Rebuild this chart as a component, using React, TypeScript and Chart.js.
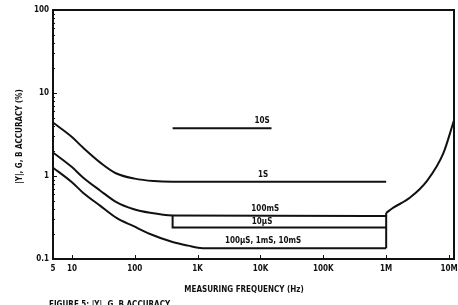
import React, { useEffect, useRef } from "react";
import { Chart, registerables } from "chart.js";

Chart.register(...registerables);

// ---- axis ticks ----
const xTickValues = [5, 10, 100, 1e3, 1e4, 1e5, 1e6, 1e7];
const xTickLabels = ["5", "10", "100", "1K", "10K", "100K", "1M", "10M"];
const yTickValues = [0.1, 1, 10, 100];
const yTickLabels = ["0.1", "1", "10", "100"];

// ---- curves (frequency Hz, accuracy %) ----
// 1S range curve
const freq1S = [5, 10, 15, 30, 50, 100, 200, 400, 1e6];
const acc1S = [4.4, 2.95, 2.2, 1.4, 1.08, 0.93, 0.87, 0.855, 0.855];
// 100mS range curve
const freq100mS = [5, 10, 15, 28, 52, 94, 175, 400, 1e6];
const acc100mS = [1.92, 1.28, 0.96, 0.67, 0.48, 0.4, 0.36, 0.335, 0.33];
// 10uS range (step at ~400 Hz)
const freq10uS = [400, 400, 1e6];
const acc10uS = [0.335, 0.24, 0.24];
// 100uS, 1mS, 10mS range curve
const freqLow = [5, 10, 15, 28, 52, 94, 175, 400, 700, 1200, 1e6];
const accLow = [1.26, 0.84, 0.63, 0.44, 0.31, 0.25, 0.2, 0.16, 0.145, 0.135, 0.135];
// vertical edge at 1 MHz
const freqEdge = [1e6, 1e6];
const accEdge = [0.135, 0.36];
// high-frequency rise
const freqHigh = [1e6, 1.3e6, 2.4e6, 4.5e6, 8.1e6, 1.2e7];
const accHigh = [0.36, 0.415, 0.55, 0.88, 1.87, 4.7];
// 10S range
const freq10S = [400, 15000];
const acc10S = [3.75, 3.75];

// ---- series labels ----
const seriesLabelTexts = ["10S", "1S", "100mS", "10\u00b5S", "100\u00b5S, 1mS, 10mS"];
const seriesLabelFreqs = [10600, 11000, 11900, 10600, 11000];
const seriesLabelAccs = [4.55, 1.04, 0.4, 0.28, 0.166];

const yTitle = "|Y|, G, B ACCURACY (%)";
const xTitle = "MEASURING FREQUENCY (Hz)";
const caption = "FIGURE 5: |Y|, G, B ACCURACY";

const FONT_FAMILY = '"DejaVu Sans Condensed", "Liberation Sans Narrow", sans-serif';
const INK = "#111";

const toPts = (xs: number[], ys: number[]) => xs.map((x, i) => ({ x, y: ys[i] }));

const decorPlugin = {
  id: "decor",
  afterDraw(chart: any) {
    const { ctx, chartArea: a, scales } = chart;
    const xs = scales.x;
    const ys = scales.y;
    ctx.save();
    // frame
    ctx.strokeStyle = INK;
    ctx.lineWidth = 2;
    ctx.strokeRect(a.left, a.top, a.right - a.left, a.bottom - a.top);
    // inward x ticks
    ctx.lineWidth = 1;
    ctx.beginPath();
    for (const v of xTickValues) {
      if (v === xTickValues[0]) continue;
      const px = Math.round(xs.getPixelForValue(v)) + 0.5;
      ctx.moveTo(px, a.bottom);
      ctx.lineTo(px, a.bottom - 4);
    }
    // inward y ticks (major + minor)
    for (let d = 0; d < yTickValues.length - 1; d++) {
      for (let m = 1; m < 10; m++) {
        const v = yTickValues[d] * m;
        const py = Math.round(ys.getPixelForValue(v)) + 0.5;
        ctx.moveTo(a.left, py);
        ctx.lineTo(a.left + (m === 1 ? 4 : 2), py);
      }
    }
    ctx.stroke();

    // series labels
    ctx.fillStyle = INK;
    ctx.font = `bold 8px ${FONT_FAMILY}`;
    ctx.textAlign = "center";
    ctx.textBaseline = "middle";
    seriesLabelTexts.forEach((t, i) => {
      ctx.fillText(t, xs.getPixelForValue(seriesLabelFreqs[i]), ys.getPixelForValue(seriesLabelAccs[i]));
    });

    // axis titles
    ctx.save();
    ctx.translate(20, (a.top + a.bottom) / 2 + 2);
    ctx.rotate(-Math.PI / 2);
    ctx.fillText(yTitle, 0, 0);
    ctx.restore();
    ctx.fillText(xTitle, 244, 290);

    // caption
    ctx.textAlign = "left";
    ctx.textBaseline = "top";
    ctx.fillText(caption, 49, 301);
    ctx.restore();
  },
};

export default function App() {
  const canvasRef = useRef<HTMLCanvasElement | null>(null);

  useEffect(() => {
    const canvas = canvasRef.current;
    if (!canvas) return;
    const curve = (data: any[]) => ({
      data,
      borderColor: INK,
      borderWidth: 2,
      pointRadius: 0,
      showLine: true,
      fill: false,
      cubicInterpolationMode: "monotone" as const,
    });
    const straight = (data: any[]) => ({
      data,
      borderColor: INK,
      borderWidth: 2,
      pointRadius: 0,
      showLine: true,
      fill: false,
      tension: 0,
    });
    const chart = new Chart(canvas, {
      type: "scatter",
      data: {
        datasets: [
          curve(toPts(freq1S, acc1S)),
          curve(toPts(freq100mS, acc100mS)),
          straight(toPts(freq10uS, acc10uS)),
          curve(toPts(freqLow, accLow)),
          straight(toPts(freqEdge, accEdge)),
          curve(toPts(freqHigh, accHigh)),
          straight(toPts(freq10S, acc10S)),
        ],
      },
      options: {
        animation: false,
        responsive: true,
        maintainAspectRatio: false,
        layout: { padding: { top: 10, right: 4, left: 0, bottom: 0 } },
        plugins: { legend: { display: false }, tooltip: { enabled: false } },
        scales: {
          x: {
            type: "logarithmic",
            min: 5,
            max: 1.2e7,
            afterBuildTicks: (scale: any) => {
              scale.ticks = xTickValues.map((v) => ({ value: v }));
            },
            afterFit: (scale: any) => {
              scale.height = 46;
              scale.paddingLeft = 0;
              scale.paddingRight = 0;
            },
            ticks: {
              autoSkip: false,
              maxRotation: 0,
              padding: 5,
              color: INK,
              font: { family: FONT_FAMILY, size: 8, weight: "bold" },
              callback: (_v: any, i: number) => xTickLabels[i],
            },
            grid: { display: false, drawTicks: false },
            border: { display: false },
          },
          y: {
            type: "logarithmic",
            min: 0.1,
            max: 100,
            afterBuildTicks: (scale: any) => {
              scale.ticks = yTickValues.map((v) => ({ value: v }));
            },
            afterFit: (scale: any) => {
              scale.width = 53;
              scale.paddingTop = 0;
              scale.paddingBottom = 0;
            },
            ticks: {
              autoSkip: false,
              padding: 4,
              color: INK,
              font: { family: FONT_FAMILY, size: 8, weight: "bold" },
              callback: (_v: any, i: number) => yTickLabels[i],
            },
            grid: { display: false, drawTicks: false },
            border: { display: false },
          },
        },
      },
      plugins: [decorPlugin],
    } as any);
    return () => chart.destroy();
  }, []);

  return (
    <div style={{ position: "fixed", left: 0, top: 0, width: 458, height: 305, background: "#fff" }}>
      <canvas ref={canvasRef} />
    </div>
  );
}
